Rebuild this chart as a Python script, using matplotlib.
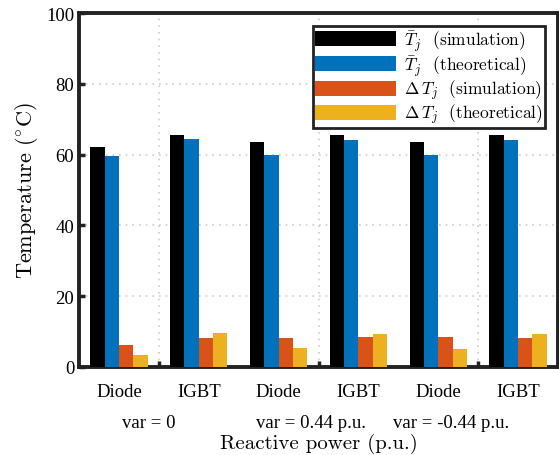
import numpy as np
import matplotlib.pyplot as plt

# data
devices = ['Diode', 'IGBT', 'Diode', 'IGBT', 'Diode', 'IGBT']
conditions = ['var = 0', 'var = 0.44 p.u.', 'var = -0.44 p.u.']
tj_sim = [62.3, 65.5, 63.5, 65.6, 63.7, 65.6]
tj_theo = [59.6, 64.4, 60.0, 64.1, 60.0, 64.1]
dtj_sim = [6.3, 8.3, 8.2, 8.5, 8.4, 8.3]
dtj_theo = [3.5, 9.5, 5.4, 9.2, 5.0, 9.2]

series = [tj_sim, tj_theo, dtj_sim, dtj_theo]
labels = [r'$\bar{T}_j$  (simulation)',
          r'$\bar{T}_j$  (theoretical)',
          r'$\Delta\, T_j$  (simulation)',
          r'$\Delta\, T_j$  (theoretical)']
colors = ['#000000', '#0072BD', '#D95319', '#EDB120']

plt.rcParams['font.family'] = ['Liberation Serif', 'DejaVu Serif']
plt.rcParams['mathtext.fontset'] = 'cm'

fig = plt.figure(figsize=(5.59, 4.56), dpi=100)
ax = fig.add_axes([0.1413, 0.193, 0.857, 0.776])

x = np.arange(1, len(devices) + 1)
w = 0.18
for i, (vals, lab, c) in enumerate(zip(series, labels, colors)):
    ax.bar(x + (i - 1.5) * w, vals, width=w, color=c, label=lab, zorder=3)

ax.set_xlim(0.5, 6.5)
ax.set_ylim(0, 100)
ax.set_yticks(np.arange(0, 101, 20))
ax.set_xticks([1.5, 3.5, 5.5])
ax.set_xticklabels([])
ax.tick_params(direction='in', length=4, width=2.5, labelsize=13.5, color='#222222')
ax.grid(True, linestyle=(0, (1, 3)), color='#cccccc', linewidth=1.2, zorder=0)
for s in ax.spines.values():
    s.set_linewidth(2.8)
    s.set_color('#222222')

for xi, d in zip(x, devices):
    ax.text(xi, -6.8, d, ha='center', va='center', fontsize=13.5, clip_on=False)
for xc, c in zip([1.375, 3.4, 5.16], conditions):
    ax.text(xc, -15.8, c, ha='center', va='center', fontsize=13.5, clip_on=False)

ax.text(0.5, -0.215, 'Reactive power (p.u.)', ha='center', va='center',
        fontsize=15, fontfamily='cmr10', transform=ax.transAxes)
ax.set_ylabel(r'Temperature ($^{\circ}$C)', fontsize=16, fontfamily='cmr10', labelpad=4)

leg = ax.legend(loc='upper right', bbox_to_anchor=(0.972, 0.963),
                prop={'family': 'cmr10', 'size': 12.5},
                handlelength=4.7, handleheight=0.95, labelspacing=0.0,
                handletextpad=0.45, borderpad=0.1, borderaxespad=0,
                fancybox=False, framealpha=1)
leg.get_frame().set_edgecolor('#222222')
leg.get_frame().set_linewidth(2.0)

fig.savefig('out.png', dpi=100)
